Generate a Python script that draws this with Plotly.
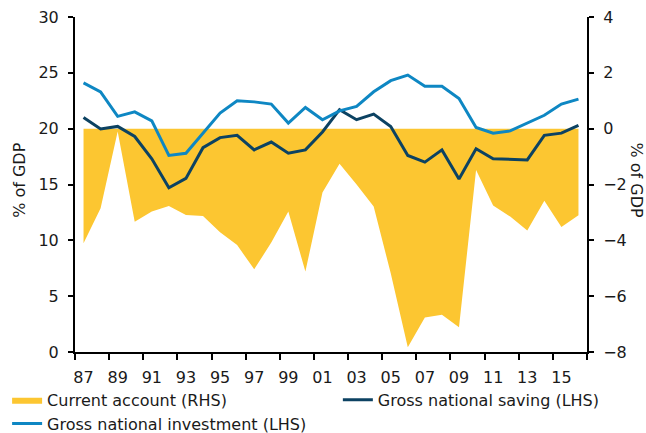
import plotly.graph_objects as go

years = list(range(1987, 2017))

current_account = [-4.1, -2.85, -0.1, -3.33, -2.97, -2.77, -3.09, -3.13, -3.71, -4.17,
                   -5.04, -4.08, -2.97, -5.12, -2.29, -1.26, -2.0, -2.79, -5.18, -7.83,
                   -6.76, -6.67, -7.11, -1.48, -2.75, -3.15, -3.65, -2.58, -3.52, -3.1]

saving = [21.0, 19.97, 20.2, 19.3, 17.3, 14.7, 15.55, 18.3, 19.2, 19.4,
          18.1, 18.8, 17.8, 18.1, 19.7, 21.7, 20.8, 21.3, 20.2, 17.6,
          17.0, 18.1, 15.5, 18.2, 17.3, 17.25, 17.2, 19.4, 19.6, 20.3]

investment = [24.1, 23.3, 21.1, 21.5, 20.7, 17.6, 17.8, 19.6, 21.4, 22.5,
              22.4, 22.2, 20.5, 21.9, 20.8, 21.6, 22.0, 23.3, 24.3, 24.8,
              23.8, 23.8, 22.7, 20.1, 19.6, 19.8, 20.5, 21.2, 22.2, 22.65]

tick_years = list(range(1987, 2016, 2))
tick_labels = [str(y)[2:] for y in tick_years]
boundaries = [y - 0.5 for y in range(1987, 2018, 2)]

GOLD = "#FCC631"
DARK = "#0C4262"
BLUE = "#0E87C3"
FONT = "DejaVu Sans"
TXT = "#1a1a1a"
FS = 16

fig = go.Figure()
# area on the RHS axis (base axis, drawn underneath)
fig.add_trace(go.Scatter(x=years, y=current_account, name="Current account (RHS)",
                         mode="lines", line=dict(width=0, color=GOLD),
                         fill="tozeroy", fillcolor=GOLD, yaxis="y", legend="legend"))
# lines on the LHS axis (overlaying, drawn on top)
fig.add_trace(go.Scatter(x=years, y=saving, name="Gross national saving (LHS)",
                         mode="lines", line=dict(width=3, color=DARK),
                         yaxis="y2", legend="legend2"))
fig.add_trace(go.Scatter(x=years, y=investment, name="Gross national investment (LHS)",
                         mode="lines", line=dict(width=3, color=BLUE),
                         yaxis="y2", legend="legend"))

fig.update_layout(
    width=646, height=433,
    margin=dict(l=75, r=59, t=17, b=81, autoexpand=False),
    paper_bgcolor="white", plot_bgcolor="white",
    font=dict(family=FONT, size=FS, color=TXT),
    showlegend=True,
    legend=dict(orientation="v", xref="container", yref="container",
                x=0.011, y=0.116, xanchor="left", yanchor="top",
                font=dict(family=FONT, size=FS, color=TXT),
                tracegroupgap=0, itemwidth=30, bgcolor="rgba(0,0,0,0)"),
    legend2=dict(orientation="v", xref="container", yref="container",
                 x=0.523, y=0.116, xanchor="left", yanchor="top",
                 font=dict(family=FONT, size=FS, color=TXT),
                 tracegroupgap=0, itemwidth=30, bgcolor="rgba(0,0,0,0)"),
    xaxis=dict(range=[1986.5, 2016.5], tickmode="array", tickvals=tick_years,
               ticktext=tick_labels, ticks="outside", ticklen=10,
               tickcolor="rgba(0,0,0,0)", showgrid=False, zeroline=False,
               showline=True, linecolor="black", linewidth=2, automargin=False,
               minor=dict(tickmode="array", tickvals=boundaries, ticks="outside",
                          ticklen=6, tickwidth=1.5, tickcolor="black", showgrid=False)),
    yaxis=dict(range=[-8, 4], tickvals=[-8, -6, -4, -2, 0, 2, 4],
               side="right", ticks="outside", ticklen=5, tickwidth=1.5,
               tickcolor="black", showgrid=False, zeroline=False, showline=True,
               linecolor="black", linewidth=2, automargin=False,
               ticklabelstandoff=6),
    yaxis2=dict(range=[0, 30], tickvals=[0, 5, 10, 15, 20, 25, 30], ticks="outside",
                overlaying="y", side="left", automargin=False,
                ticklen=5, tickwidth=1.5, tickcolor="black", showgrid=False,
                zeroline=False, showline=True, linecolor="black", linewidth=2,
                ticklabelstandoff=6),
    annotations=[
        dict(text="% of GDP", xref="paper", yref="paper", x=-0.11, y=0.513,
             textangle=-90, showarrow=False, font=dict(size=FS),
             xanchor="center", yanchor="middle"),
        dict(text="% of GDP", xref="paper", yref="paper", x=1.097, y=0.513,
             textangle=90, showarrow=False, font=dict(size=FS),
             xanchor="center", yanchor="middle"),
    ],
)

fig.write_html("out.html", config={"displayModeBar": False},
               post_script="document.body.style.margin='0';document.body.style.overflow='hidden';")
